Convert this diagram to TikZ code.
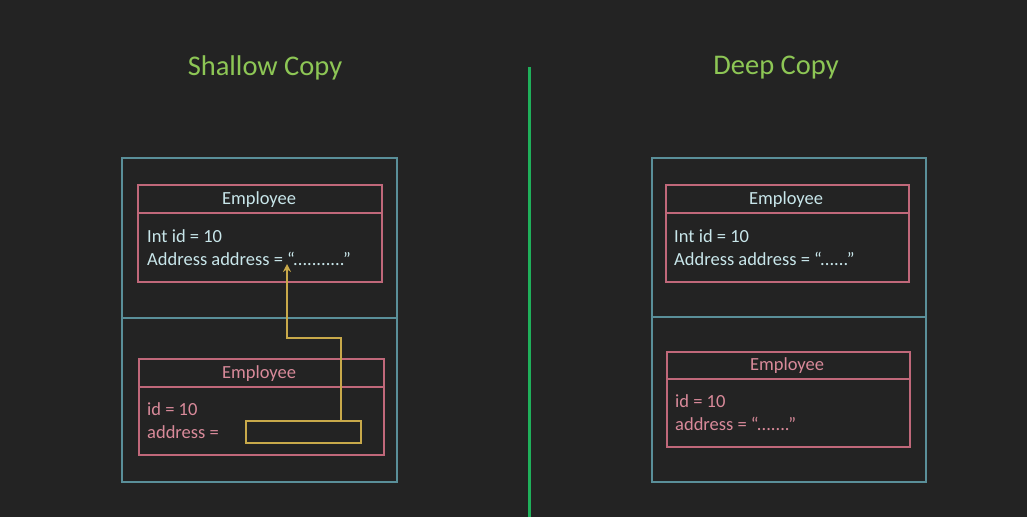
\documentclass[tikz,border=0pt]{standalone}
\usepackage{fontspec}
\setmainfont{Carlito}
\usetikzlibrary{arrows.meta}
\definecolor{bg}{HTML}{232323}
\definecolor{teal}{HTML}{5A8F99}
\definecolor{pinkc}{HTML}{C0687A}
\definecolor{cyantext}{HTML}{C8E6EA}
\definecolor{pinktext}{HTML}{D98A9A}
\definecolor{yel}{HTML}{C8A94A}
\definecolor{titlegreen}{HTML}{8DC655}
\definecolor{divgreen}{HTML}{1FAF5A}
\tikzset{
  outerbox/.style={draw=teal, line width=1.5pt, anchor=north west, inner sep=0pt},
  classbox/.style={draw=pinkc, line width=1.5pt, anchor=north west, inner sep=0pt},
  hdrline/.style={draw=pinkc, line width=1.5pt},
  sepline/.style={draw=teal, line width=1.5pt},
  titletext/.style={text=titlegreen, font=\fontsize{28.5}{32}\selectfont},
  cyanlbl/.style={text=cyantext, font=\fontsize{18.5}{22}\selectfont, inner sep=0pt},
  pinklbl/.style={text=pinktext, font=\fontsize{18.5}{22}\selectfont, inner sep=0pt},
  ptrbox/.style={draw=yel, line width=1.5pt, anchor=north west, inner sep=0pt},
  ptrarrow/.style={draw=yel, line width=1.5pt, -{Stealth[length=8pt,width=8pt]}},
}
\begin{document}
\begin{tikzpicture}[x=1pt,y=-1pt]
\fill[bg] (0,0) rectangle (1027,517);
\useasboundingbox (0,0) rectangle (1027,517);

% divider
\coordinate (dtop) at (529.5,67);
\coordinate (dbot) at (529.5,517);
\draw[divgreen, line width=2.5pt] (dtop) -- (dbot);

% titles
\node[titletext] (t1) at (265,68) {Shallow Copy};
\node[titletext] (t2) at (776,68) {Deep Copy};

% ---------- left side ----------
\node[outerbox, minimum width=275pt, minimum height=324pt] (lo) at (121,157) {};
\coordinate (lsepL) at (121,318);
\coordinate (lsepR) at (396,318);
\draw[sepline] (lsepL) -- (lsepR);

\node[classbox, minimum width=244pt, minimum height=97pt] (lc1) at (137,184) {};
\coordinate (lc1hL) at (137,213);
\coordinate (lc1hR) at (381,213);
\draw[hdrline] (lc1hL) -- (lc1hR);
\node[cyanlbl] (lc1n) at (259,199.5) {Employee};
\node[cyanlbl, anchor=west] (lc1a) at (147,236) {Int id = 10};
\node[cyanlbl, anchor=west] (lc1b) at (147,259) {Address address = “...........”};

\node[classbox, minimum width=245pt, minimum height=96pt] (lc2) at (138,358) {};
\coordinate (lc2hL) at (138,387);
\coordinate (lc2hR) at (383,387);
\draw[hdrline] (lc2hL) -- (lc2hR);
\node[pinklbl] (lc2n) at (259,373.5) {Employee};
\node[pinklbl, anchor=west] (lc2a) at (147,409) {id = 10};
\node[pinklbl, anchor=west] (lc2b) at (147,432) {address =};

\node[ptrbox, minimum width=115pt, minimum height=22pt] (ptr) at (245,420) {};
\coordinate (bend) at (287,338);
\coordinate (tgt) at (287,264);
\draw[ptrarrow] (ptr.north -| 341,0) |- (bend) -- (tgt);

% ---------- right side ----------
\node[outerbox, minimum width=274pt, minimum height=324pt] (ro) at (651,157) {};
\coordinate (rsepL) at (651,317);
\coordinate (rsepR) at (925,317);
\draw[sepline] (rsepL) -- (rsepR);

\node[classbox, minimum width=243pt, minimum height=97pt] (rc1) at (665,184) {};
\coordinate (rc1hL) at (665,213);
\coordinate (rc1hR) at (908,213);
\draw[hdrline] (rc1hL) -- (rc1hR);
\node[cyanlbl] (rc1n) at (786,199.5) {Employee};
\node[cyanlbl, anchor=west] (rc1a) at (674,236) {Int id = 10};
\node[cyanlbl, anchor=west] (rc1b) at (674,259) {Address address = “......”};

\node[classbox, minimum width=243pt, minimum height=95pt] (rc2) at (666,351) {};
\coordinate (rc2hL) at (666,379);
\coordinate (rc2hR) at (909,379);
\draw[hdrline] (rc2hL) -- (rc2hR);
\node[pinklbl] (rc2n) at (787,365.5) {Employee};
\node[pinklbl, anchor=west] (rc2a) at (675,401) {id = 10};
\node[pinklbl, anchor=west] (rc2b) at (675,424) {address = “.......”};
\end{tikzpicture}
\end{document}
